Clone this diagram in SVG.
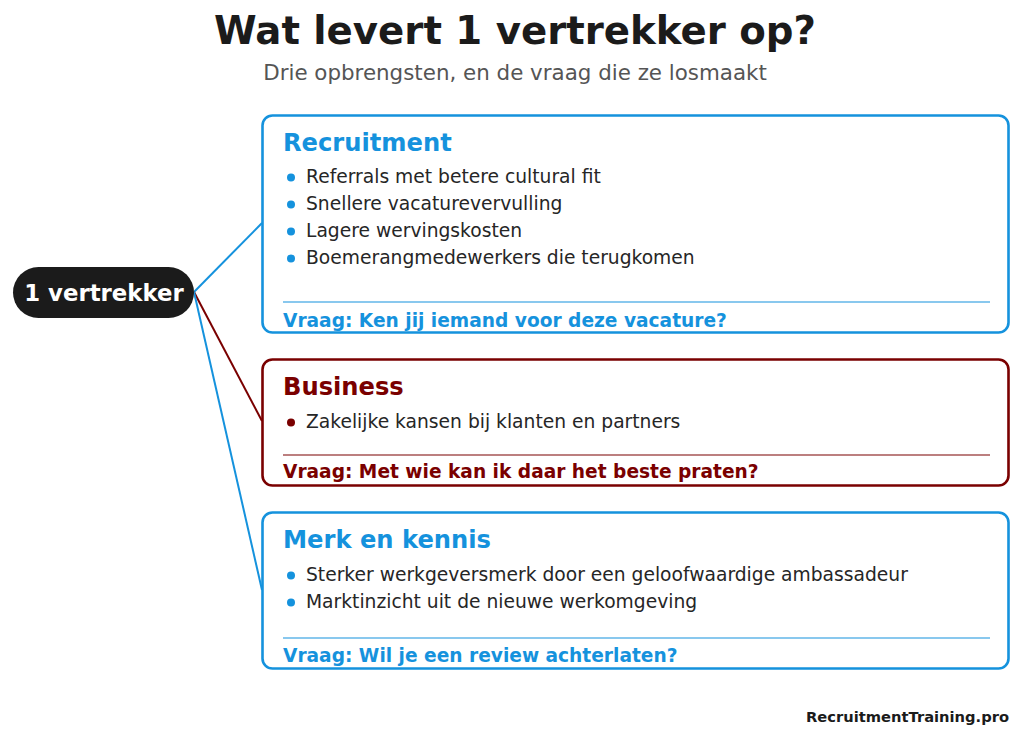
<svg xmlns="http://www.w3.org/2000/svg" width="1024" height="738" viewBox="0 0 1024 738">
<style>
text{font-family:"DejaVu Sans","Liberation Sans",sans-serif}
.title{font-size:38.7px;font-weight:bold;fill:#1b1b1b}
.sub{font-size:21.4px;fill:#555}
.box{fill:#fff;stroke-width:2.6}
.blue{stroke:#1592dd}
.red{stroke:#7a0000}
.hb{fill:#1592dd}
.hr{fill:#7a0000}
.head{font-size:24.2px;font-weight:bold}
.item{font-size:18.7px;fill:#262626}
.q{font-size:18.6px;font-weight:bold}
.div{stroke-width:1.2}
.conn{fill:none;stroke-width:2}
</style>
<rect width="1024" height="738" fill="#fff"/>
<text class="title" x="515" y="44" text-anchor="middle">Wat levert 1 vertrekker op?</text>
<text class="sub" x="515" y="80" text-anchor="middle">Drie opbrengsten, en de vraag die ze losmaakt</text>
<g id="connectors">
<line class="conn blue" x1="194" y1="292" x2="262" y2="223"/>
<line class="conn red" x1="194" y1="292" x2="262" y2="421"/>
<line class="conn blue" x1="194" y1="292" x2="262" y2="590"/>
</g>
<g id="hub">
<rect x="13" y="267" width="181" height="51" rx="25.5" fill="#1b1b1b"/>
<text x="104" y="300.5" text-anchor="middle" font-size="22.8" font-weight="bold" fill="#fff">1 vertrekker</text>
</g>
<g id="recruitment">
<rect class="box blue" x="262.5" y="115.5" width="746" height="217" rx="10"/>
<text class="head hb" x="283" y="151">Recruitment</text>
<circle class="hb" cx="291" cy="177.5" r="4"/>
<text class="item" x="306" y="183">Referrals met betere cultural fit</text>
<circle class="hb" cx="291" cy="204.5" r="4"/>
<text class="item" x="306" y="210">Snellere vacaturevervulling</text>
<circle class="hb" cx="291" cy="231.5" r="4"/>
<text class="item" x="306" y="237">Lagere wervingskosten</text>
<circle class="hb" cx="291" cy="258.5" r="4"/>
<text class="item" x="306" y="264">Boemerangmedewerkers die terugkomen</text>
<line class="div blue" x1="283" y1="302" x2="990" y2="302"/>
<text class="q hb" x="283" y="327">Vraag: Ken jij iemand voor deze vacature?</text>
</g>
<g id="business">
<rect class="box red" x="262.5" y="359.5" width="746" height="126" rx="10"/>
<text class="head hr" x="283" y="395">Business</text>
<circle class="hr" cx="291" cy="422.5" r="4"/>
<text class="item" x="306" y="428">Zakelijke kansen bij klanten en partners</text>
<line class="div red" x1="283" y1="455" x2="990" y2="455"/>
<text class="q hr" x="283" y="478">Vraag: Met wie kan ik daar het beste praten?</text>
</g>
<g id="merk">
<rect class="box blue" x="262.5" y="512.5" width="746" height="156" rx="10"/>
<text class="head hb" x="283" y="548">Merk en kennis</text>
<circle class="hb" cx="291" cy="575.5" r="4"/>
<text class="item" x="306" y="581">Sterker werkgeversmerk door een geloofwaardige ambassadeur</text>
<circle class="hb" cx="291" cy="602.5" r="4"/>
<text class="item" x="306" y="608">Marktinzicht uit de nieuwe werkomgeving</text>
<line class="div blue" x1="283" y1="638" x2="990" y2="638"/>
<text class="q hb" x="283" y="662">Vraag: Wil je een review achterlaten?</text>
</g>
<text x="1009" y="722" text-anchor="end" font-size="14.7" font-weight="bold" fill="#1b1b1b">RecruitmentTraining.pro</text>
</svg>
